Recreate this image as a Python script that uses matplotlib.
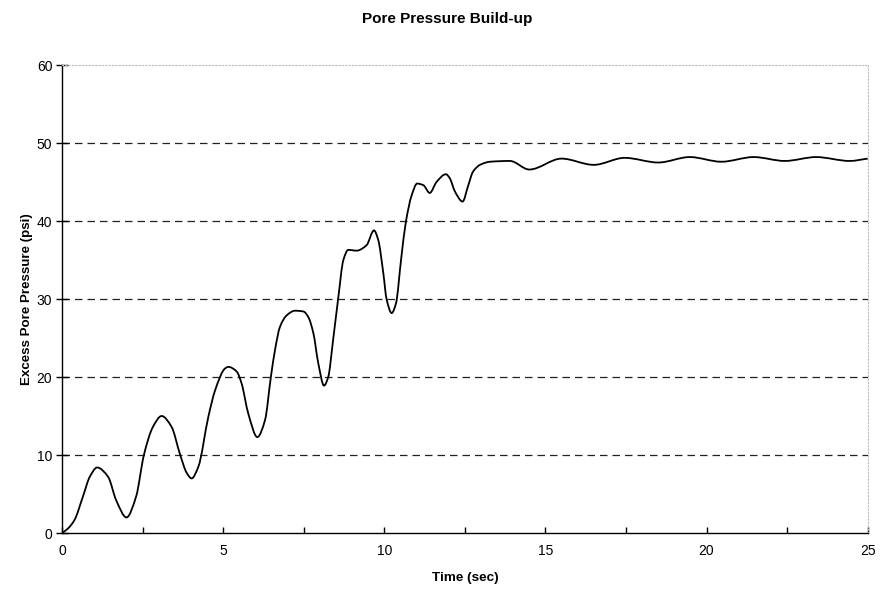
import numpy as np
import matplotlib
matplotlib.use("Agg")
import matplotlib.pyplot as plt
from matplotlib.path import Path
from matplotlib.patches import PathPatch

plt.rcParams['font.family'] = ['Liberation Sans', 'DejaVu Sans']

# Readings (time in sec, excess pore pressure in psi)
time_s = [0.0, 0.19, 0.39, 0.65, 0.86, 1.09, 1.43, 1.68, 2.0, 2.3, 2.54, 2.82,
          3.09, 3.40, 3.66, 3.87, 4.02, 4.23, 4.54, 4.75, 5.06, 5.16, 5.42,
          5.57, 5.78, 6.06, 6.30, 6.48, 6.61, 6.76, 6.97, 7.23, 7.49, 7.64,
          7.80, 7.95, 8.13, 8.26, 8.41, 8.57, 8.73, 8.88, 9.14, 9.45, 9.68,
          9.81, 9.97, 10.07, 10.23, 10.36, 10.53, 10.67, 10.85, 11.02, 11.21,
          11.41, 11.62, 11.91, 12.03, 12.19, 12.43, 12.6, 12.75, 12.97, 13.28,
          13.9, 14.5, 15.5, 16.5, 17.46, 18.5, 19.48, 20.46, 21.46, 22.43,
          23.4, 24.44, 25.0]
pressure = [0.0, 0.6, 1.7, 4.7, 7.2, 8.4, 7.2, 4.2, 2.0, 4.7, 10.0, 13.6,
            15.0, 13.6, 10.1, 7.7, 7.0, 8.5, 14.9, 18.3, 21.1, 21.3, 20.7,
            19.2, 15.3, 12.3, 14.5, 20.0, 23.5, 26.4, 27.9, 28.5, 28.4, 27.7,
            25.6, 21.8, 18.9, 20.0, 24.7, 30.1, 35.0, 36.3, 36.2, 36.9, 38.8,
            37.6, 33.3, 30.0, 28.2, 29.4, 35.4, 39.9, 43.3, 44.8, 44.6,
            43.6, 45.0, 46.0, 45.5, 43.8, 42.5, 44.5, 46.3, 47.2, 47.6,
            47.7, 46.6, 48.0, 47.2, 48.1, 47.5, 48.2, 47.6, 48.2, 47.7,
            48.2, 47.7, 48.0]

xticks = [0, 5, 10, 15, 20, 25]
yticks = [0, 10, 20, 30, 40, 50, 60]


def smooth_path(x, y):
    # smoothed line through the readings: monotone (Fritsch-Carlson) tangents,
    # each segment drawn as a cubic Bezier
    x = np.asarray(x, float)
    y = np.asarray(y, float)
    h = np.diff(x)
    d = np.diff(y) / h
    m = np.zeros_like(y)
    for i in range(1, len(y) - 1):
        if d[i - 1] * d[i] > 0:
            w1 = 2 * h[i] + h[i - 1]
            w2 = h[i] + 2 * h[i - 1]
            m[i] = (w1 + w2) / (w1 / d[i - 1] + w2 / d[i])
    m[0] = d[0]
    m[-1] = d[-1]
    verts = [(x[0], y[0])]
    codes = [Path.MOVETO]
    for i in range(len(x) - 1):
        verts += [(x[i] + h[i] / 3, y[i] + m[i] * h[i] / 3),
                  (x[i + 1] - h[i] / 3, y[i + 1] - m[i + 1] * h[i] / 3),
                  (x[i + 1], y[i + 1])]
        codes += [Path.CURVE4] * 3
    return Path(verts, codes)


fig = plt.figure(figsize=(8.8, 5.9), dpi=100)
ax = fig.add_axes([0.0705, 0.0966, 0.9155, 0.7932])

for yv in yticks[1:-1]:
    ax.axhline(yv, color='#222222', lw=0.9, ls=(0, (6, 4)), zorder=1)

ax.add_patch(PathPatch(smooth_path(time_s, pressure), fill=False,
                       edgecolor='black', lw=1.3, zorder=3))

ax.set_xlim(0, 25)
ax.set_ylim(0, 60)
ax.set_xticks(xticks)
ax.set_xticks([2.5, 7.5, 12.5, 17.5, 22.5], minor=True)
ax.set_yticks(yticks)
ax.tick_params(axis='y', direction='inout', length=8, width=1, labelsize=10,
               pad=3, colors='black')
ax.tick_params(axis='x', which='both', direction='in', length=4, width=1,
               labelsize=10, pad=8, colors='black')

for s in ['top', 'right']:
    ax.spines[s].set_color('#bbbbbb')
    ax.spines[s].set_linestyle((0, (1, 2)))
    ax.spines[s].set_linewidth(0.8)
for s in ['left', 'bottom']:
    ax.spines[s].set_color('black')
    ax.spines[s].set_linewidth(1.0)

ax.set_xlabel('Time (sec)', fontsize=9.7, fontweight='bold', labelpad=10)
ax.set_ylabel('Excess Pore Pressure (psi)', fontsize=9.6, fontweight='bold',
              labelpad=3)
fig.text(0.508, 0.968, 'Pore Pressure Build-up', ha='center', va='center',
         fontsize=11, fontweight='bold')

fig.savefig('out.png', dpi=100)
